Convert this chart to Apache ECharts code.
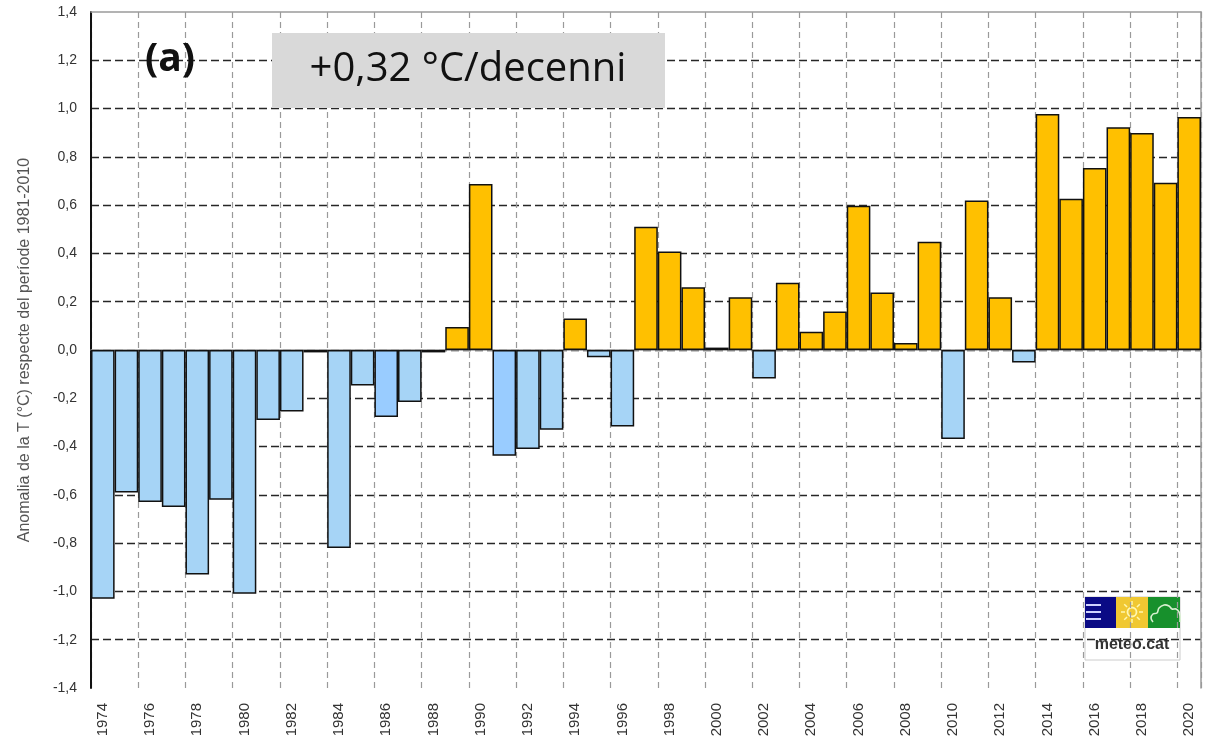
<!DOCTYPE html>
<html>
<head>
<meta charset="utf-8">
<script src="https://cdn.jsdelivr.net/npm/echarts@6/dist/echarts.min.js"></script>
<style>
html,body{margin:0;padding:0;background:#fff;}
#chart{width:1213px;height:740px;}
</style>
</head>
<body>
<div id="chart"></div>
<script>
const years = ['1974','1975','1976','1977','1978','1979','1980','1981','1982','1983','1984','1985','1986','1987','1988','1989','1990','1991','1992','1993','1994','1995','1996','1997','1998','1999','2000','2001','2002','2003','2004','2005','2006','2007','2008','2009','2010','2011','2012','2013','2014','2015','2016','2017','2018','2019','2020'];
const anomalies = [-1.03,-0.59,-0.63,-0.65,-0.93,-0.62,-1.01,-0.29,-0.255,-0.01,-0.82,-0.147,-0.277,-0.215,-0.01,0.095,0.688,-0.438,-0.41,-0.33,0.13,-0.03,-0.317,0.51,0.408,0.26,0.01,0.219,-0.118,0.279,0.076,0.159,0.597,0.238,0.029,0.448,-0.369,0.619,0.219,-0.052,0.977,0.626,0.754,0.923,0.899,0.693,0.965];
const darkerBlueYears = ['1986','1991'];
const yTicks = [-1.4,-1.2,-1.0,-0.8,-0.6,-0.4,-0.2,0.0,0.2,0.4,0.6,0.8,1.0,1.2,1.4];
const yAxisTitle = 'Anomalia de la T (°C) respecte del període 1981-2010';
const trendText = '+0,32 °C/decenni';
const panelLabel = '(a)';
const logoText = 'meteo.cat';

const COL_POS = '#FFC000', COL_NEG = '#A6D4F6', COL_NEG2 = '#99CCFF';
const barData = anomalies.map((v, i) => ({
  value: v,
  itemStyle: { color: v >= 0 ? COL_POS : (darkerBlueYears.includes(years[i]) ? COL_NEG2 : COL_NEG) }
}));

const splitColors = yTicks.map((t, i) => (i === 0 || i === yTicks.length - 1) ? 'rgba(0,0,0,0)' : '#262626');

// logo decorations
const sunRays = [];
for (let k = 0; k < 8; k++) {
  const a = k * Math.PI / 4;
  sunRays.push({ type: 'line', shape: { x1: 1132 + Math.cos(a) * 7, y1: 612 + Math.sin(a) * 7, x2: 1132 + Math.cos(a) * 11, y2: 612 + Math.sin(a) * 11 }, style: { stroke: '#fff7b0', lineWidth: 1.5 } });
}
const cloudPts = [[1153,622],[1151,618],[1153,614],[1157,613],[1159,608],[1164,605],[1169,606],[1172,609],[1176,609],[1179,612],[1180,616],[1180,622]];

const chart = echarts.init(document.getElementById('chart'), null, {renderer: 'canvas'});
chart.setOption({
  backgroundColor: '#fff',
  animation: false,
  grid: { left: 91, right: 12, top: 12, bottom: 52, containLabel: false },
  xAxis: [{
    type: 'category',
    data: years,
    boundaryGap: true,
    position: 'bottom',
    axisLine: { show: true, lineStyle: { color: '#9a9a9a', width: 1.5 } },
    axisTick: { show: false },
    axisLabel: {
      interval: 1, rotate: 90, margin: 15,
      fontFamily: 'Liberation Sans', fontSize: 15, color: '#333'
    },
    splitLine: { show: true, interval: 1, lineStyle: { color: '#9a9a9a', type: [6, 4], width: 1.2 } }
  }, {
    type: 'category',
    data: years,
    position: 'top',
    axisLine: { show: true, onZero: false, lineStyle: { color: '#9a9a9a', width: 1.5 } },
    axisTick: { show: false },
    axisLabel: { show: false },
    splitLine: { show: false }
  }],
  yAxis: [{
    type: 'value',
    min: -1.4, max: 1.4, interval: 0.2,
    name: yAxisTitle,
    nameLocation: 'middle',
    nameGap: 58,
    nameTextStyle: { fontFamily: 'Liberation Sans', fontSize: 16, color: '#555' },
    axisLine: { show: true, onZero: false, lineStyle: { color: '#111', width: 2 } },
    axisTick: { show: false },
    axisLabel: {
      margin: 14, fontFamily: 'Liberation Sans', fontSize: 14, color: '#333',
      formatter: v => v.toFixed(1).replace('.', ',')
    },
    splitLine: { show: true, lineStyle: { color: splitColors, type: [8, 4], width: 1.4 } }
  }, {
    type: 'value',
    min: -1.4, max: 1.4, interval: 0.2,
    position: 'right',
    axisLine: { show: true, onZero: false, lineStyle: { color: '#9a9a9a', width: 1.5 } },
    axisTick: { show: false },
    axisLabel: { show: false },
    splitLine: { show: false }
  }],
  series: [{
    type: 'bar',
    data: barData,
    barWidth: '100%',
    barCategoryGap: '0%',
    itemStyle: { borderColor: '#111', borderWidth: 1.5 },
    z: 3
  }],
  graphic: [
    { type: 'rect', shape: { x: 272, y: 33, width: 393, height: 75 }, style: { fill: '#D9D9D9' }, z: 10 },
    { type: 'text', z: 11,
      style: { text: trendText, x: 468, y: 70, textAlign: 'center', textVerticalAlign: 'middle', font: '400 40px "Open Sans"', fill: '#111' } },
    { type: 'text', z: 11,
      style: { text: panelLabel, x: 170, y: 60, textAlign: 'center', textVerticalAlign: 'middle', font: '700 39px "Open Sans"', fill: '#111' } },
    { type: 'group', z: 12, children: [
      { type: 'rect', shape: { x: 1085, y: 597, width: 95, height: 63 }, style: { fill: 'rgba(255,255,255,0.75)', stroke: '#ccc', lineWidth: 1 } },
      { type: 'rect', shape: { x: 1085, y: 597, width: 31, height: 31 }, style: { fill: '#0a0a85' } },
      { type: 'rect', shape: { x: 1116, y: 597, width: 32, height: 31 }, style: { fill: '#F0C832' } },
      { type: 'rect', shape: { x: 1148, y: 597, width: 32, height: 31 }, style: { fill: '#17902C' } },
      { type: 'line', shape: { x1: 1086, y1: 605, x2: 1101, y2: 605 }, style: { stroke: '#cfd2ff', lineWidth: 2 } },
      { type: 'line', shape: { x1: 1086, y1: 612, x2: 1101, y2: 612 }, style: { stroke: '#cfd2ff', lineWidth: 2 } },
      { type: 'line', shape: { x1: 1086, y1: 619, x2: 1101, y2: 619 }, style: { stroke: '#cfd2ff', lineWidth: 2 } },
      { type: 'circle', shape: { cx: 1132, cy: 612, r: 4.5 }, style: { fill: 'none', stroke: '#fff7b0', lineWidth: 1.8 } }
    ].concat(sunRays).concat([
      { type: 'polyline', shape: { points: cloudPts, smooth: 0.4 }, style: { fill: 'none', stroke: '#d8f0d0', lineWidth: 1.6 } },
      { type: 'text', style: { text: logoText, x: 1132, y: 645, textAlign: 'center', textVerticalAlign: 'middle', font: '700 16px "Liberation Sans"', fill: '#333' } }
    ])}
  ]
});
</script>
</body>
</html>
